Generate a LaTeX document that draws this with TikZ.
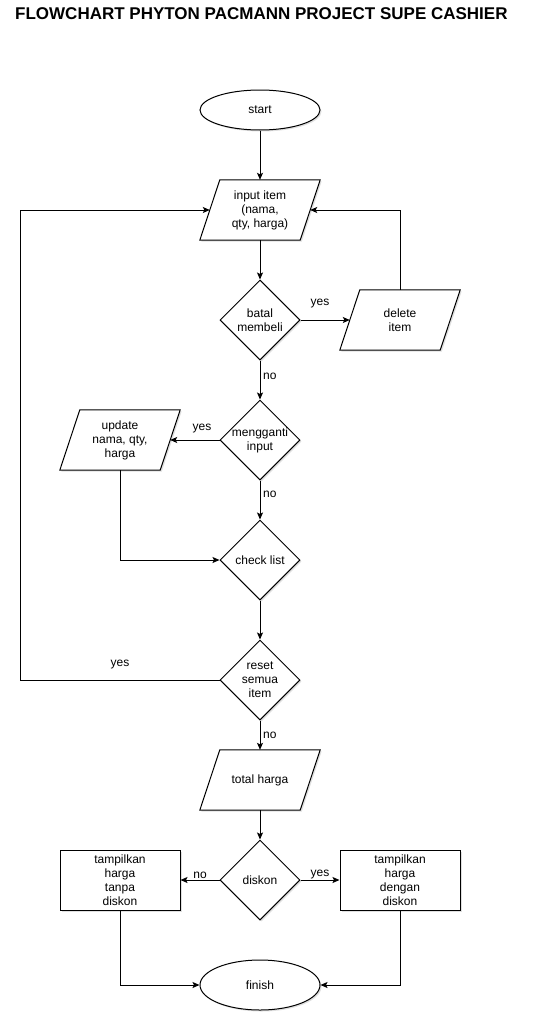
\documentclass[tikz,border=0pt]{standalone}
\usepackage{fontspec}
\setmainfont{Liberation Sans}
\usetikzlibrary{shapes.geometric,arrows.meta,shadows}
\begin{document}
\begin{tikzpicture}[x=1pt,y=-1pt,
  every node/.style={font=\fontsize{12}{14}\selectfont},
  shad/.style={drop shadow={opacity=0.25,shadow xshift=1.5pt,shadow yshift=-1.5pt}},
  term/.style={ellipse,draw,fill=white,line width=1pt,minimum width=120pt,inner sep=0pt,shad},
  dia/.style={diamond,draw,fill=white,line width=1pt,minimum width=80pt,minimum height=80pt,inner sep=0pt,shad},
  para/.style={minimum width=100pt,minimum height=60pt,inner sep=0pt,align=center},
  paraline/.style={draw,fill=white,line width=1pt,shad},
  proc/.style={rectangle,draw,fill=white,line width=1pt,minimum width=120pt,minimum height=60pt,inner sep=0pt,align=center,shad},
  txt/.style={align=center,inner sep=0pt},
  lab/.style={inner sep=1pt},
  conn/.style={line width=1pt,-{Stealth[length=7pt,width=6pt,inset=1.5pt]}}
]
\useasboundingbox (0,0) rectangle (534,1025);

\node[font=\bfseries\fontsize{17}{20}\selectfont,anchor=west,inner sep=0pt] (title) at (15,14) {FLOWCHART PHYTON PACMANN PROJECT SUPE CASHIER};

% parallelogram placeholders
\node[para] (inp) at (260,210) {};
\node[para] (del) at (400,320) {};
\node[para] (upd) at (120,440) {};
\node[para] (tot) at (260,780) {};
\foreach \n in {inp,del,upd,tot}
  \path[paraline] ([xshift=10pt]\n.north west) -- ([xshift=10pt]\n.north east) -- ([xshift=-10pt]\n.south east) -- ([xshift=-10pt]\n.south west) -- cycle;
\node[txt] at (inp) {input item\\(nama,\\qty, harga)};
\node[txt] at (del) {delete\\item};
\node[txt] at (upd) {update\\nama, qty,\\harga};
\node[txt] at (tot) {total harga};

\node[term,minimum height=40pt] (start) at (260,110) {start};
\node[term,minimum height=50pt] (fin) at (260,985) {finish};

\node[dia] (bat) at (260,320) {};
\node[txt] at (bat) {batal\\membeli};
\node[dia] (men) at (260,440) {};
\node[txt] at (men) {mengganti\\input};
\node[dia] (chk) at (260,560) {};
\node[txt] at (chk) {check list};
\node[dia] (res) at (260,680) {};
\node[txt] at (res) {reset\\semua\\item};
\node[dia] (dis) at (260,880) {};
\node[txt] at (dis) {diskon};

\node[proc] (tl) at (120,880) {tampilkan\\harga\\tanpa\\diskon};
\node[proc] (tr) at (400,880) {tampilkan\\harga\\dengan\\diskon};

\coordinate (lx) at (20,680);

\draw[conn] (start) -- (inp);
\draw[conn] (inp) -- (bat);
\draw[conn] (bat.east) -- (del.west);
\draw[conn] (del.north) |- (inp.east);
\draw[conn] (bat.south) -- (men.north);
\draw[conn] (men.west) -- (upd.east);
\draw[conn] (men.south) -- (chk.north);
\draw[conn] (upd.south) |- (chk.west);
\draw[conn] (chk.south) -- (res.north);
\draw[conn] (res.west) -- (lx) |- (inp.west);
\draw[conn] (res.south) -- (tot.north);
\draw[conn] (tot.south) -- (dis.north);
\draw[conn] (dis.west) -- (tl.east);
\draw[conn] (dis.east) -- (tr.west);
\draw[conn] (tl.south) |- (fin.west);
\draw[conn] (tr.south) |- (fin.east);

\node[lab] (l1) at (320,304) {yes};
\node[lab,anchor=west] (l2) at (262,376) {no};
\node[lab,fill=white] (l3) at (202,429) {yes};
\node[lab,anchor=west] (l4) at (262,494) {no};
\node[lab] (l5) at (120,665) {yes};
\node[lab,anchor=west] (l6) at (262,735) {no};
\node[lab] (l7) at (200,875) {no};
\node[lab] (l8) at (320,875) {yes};
\end{tikzpicture}
\end{document}
